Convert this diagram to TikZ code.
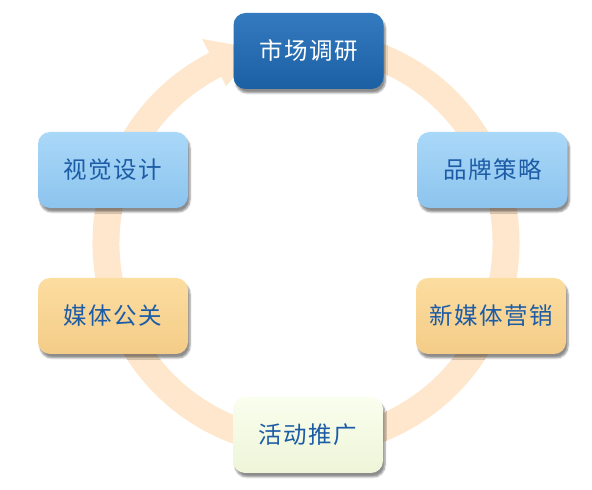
\documentclass[tikz,border=0pt]{standalone}
\usepackage{fontspec}
\newfontfamily\cjk[LetterSpace=6]{Noto Sans CJK SC}
\usetikzlibrary{calc,shadows.blur}
\definecolor{ringc}{RGB}{254,231,204}
\definecolor{txtblue}{RGB}{28,92,166}
\definecolor{dbtop}{RGB}{52,122,190}
\definecolor{dbbot}{RGB}{28,96,164}
\definecolor{lbtop}{RGB}{170,216,248}
\definecolor{lbbot}{RGB}{140,196,238}
\definecolor{ortop}{RGB}{252,221,160}
\definecolor{orbot}{RGB}{244,204,136}
\definecolor{crtop}{RGB}{250,254,238}
\definecolor{crbot}{RGB}{238,245,216}
\tikzset{
  stagebox/.style={rounded corners=12pt, minimum width=150pt, minimum height=76pt,
    inner sep=0pt, font=\cjk\fontsize{23.5}{25}\selectfont, text=txtblue,
    blur shadow={shadow xshift=2pt, shadow yshift=-4pt, shadow blur steps=6, shadow opacity=45}},
  darkbox/.style={stagebox, top color=dbtop, bottom color=dbbot, text=white},
  lightbox/.style={stagebox, top color=lbtop, bottom color=lbbot},
  orangebox/.style={stagebox, top color=ortop, bottom color=orbot},
  creambox/.style={stagebox, top color=crtop, bottom color=crbot},
}
\begin{document}
\begin{tikzpicture}[x=1pt,y=1pt]
\useasboundingbox (0,0) rectangle (592,490);
\coordinate (C) at (306,247);
% ring arrow
\draw[ringc, line width=27pt] ($(C)+(80:200)$) arc (80:-243:200);
\fill[ringc] ($(C)+(117:229)$) -- ($(C)+(104:200)$) -- ($(C)+(117:176)$) -- cycle;
% nodes
\node[darkbox]   (mr) at (308.5,439) {市场调研};
\node[lightbox]  (pp) at (492.5,320) {品牌策略};
\node[orangebox] (xm) at (491,174)   {新媒体营销};
\node[creambox]  (hd) at (308,55)    {活动推广};
\node[orangebox] (mt) at (113,174)   {媒体公关};
\node[lightbox]  (sj) at (113,320)   {视觉设计};
\end{tikzpicture}
\end{document}
